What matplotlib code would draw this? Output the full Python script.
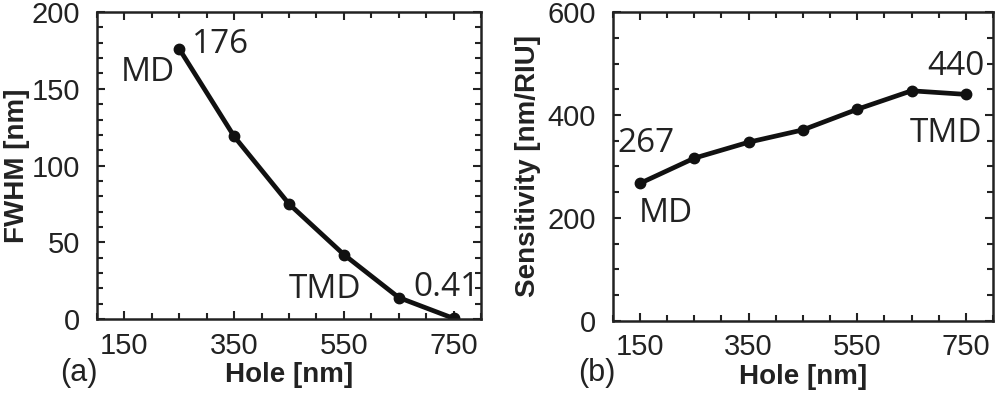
import matplotlib
matplotlib.use('Agg')
from matplotlib import pyplot as plt
from matplotlib.ticker import MultipleLocator

# data
hole_a = [250, 350, 450, 550, 650, 750]
fwhm = [176, 119, 75, 42, 14, 0.41]

hole_b = [150, 250, 350, 450, 550, 650, 750]
sens = [267, 316, 347, 371, 411, 447, 440]

xticks = [150, 350, 550, 750]

tick_font = 'Liberation Sans'
note_font = 'Open Sans'

fig = plt.figure(figsize=(9.99, 3.96), dpi=100)
axa = fig.add_axes([0.0971, 0.1944, 0.3844, 0.775])
axb = fig.add_axes([0.6133, 0.190, 0.3807, 0.7795])


def style(ax, ymax, ymaj, ymin):
    ax.set_xlim(100, 800)
    ax.set_ylim(0, ymax)
    ax.set_xticks(xticks)
    ax.xaxis.set_minor_locator(MultipleLocator(50))
    ax.yaxis.set_major_locator(MultipleLocator(ymaj))
    ax.yaxis.set_minor_locator(MultipleLocator(ymin))
    ax.tick_params(which='both', direction='in', top=True, right=True,
                   width=1.5, labelsize=21, colors='#222222')
    ax.tick_params(which='major', length=6)
    ax.tick_params(which='minor', length=4)
    ax.tick_params(axis='x', pad=9)
    ax.tick_params(axis='y', pad=12)
    for lab in ax.get_xticklabels() + ax.get_yticklabels():
        lab.set_fontfamily(tick_font)
    for s in ax.spines.values():
        s.set_linewidth(1.8)
        s.set_color('#222222')
    ax.set_xlabel('Hole [nm]', fontsize=20, fontweight='bold',
                  family=tick_font, color='#222222')


# (a) FWHM
axa.plot(hole_a, fwhm, '-o', color='#111111', lw=3.4, ms=7.5)
style(axa, 200, 50, 10)
axa.set_ylabel('FWHM [nm]', fontsize=20, fontweight='bold',
               family=tick_font, color='#222222')
axa.yaxis.set_label_coords(-0.175, 0.5)
axa.xaxis.set_label_coords(0.5, -0.14)

kw = dict(textcoords='offset points', fontsize=24, family=note_font,
          color='#222222', va='center')
axa.annotate('176', xy=(hole_a[0], fwhm[0]), xytext=(9, 3), ha='left', **kw)
axa.annotate('MD', xy=(hole_a[0], fwhm[0]), xytext=(-3, -17), ha='right', **kw)
axa.annotate('TMD', xy=(hole_a[4], fwhm[4]), xytext=(-27, 6), ha='right', **kw)
axa.annotate('0.41', xy=(hole_a[5], fwhm[5]), xytext=(19, 22), ha='right', **kw)

# (b) Sensitivity
axb.plot(hole_b, sens, '-o', color='#111111', lw=3.4, ms=7.5)
style(axb, 600, 200, 50)
axb.set_ylabel('Sensitivity [nm/RIU]', fontsize=20, fontweight='bold',
               family=tick_font, color='#222222')
axb.yaxis.set_label_coords(-0.188, 0.5)
axb.xaxis.set_label_coords(0.5, -0.14)

axb.annotate('267', xy=(hole_b[0], sens[0]), xytext=(4.5, 29), ha='center', **kw)
axb.annotate('MD', xy=(hole_b[0], sens[0]), xytext=(19, -22), ha='center', **kw)
axb.annotate('440', xy=(hole_b[-1], sens[-1]), xytext=(-7, 20), ha='center', **kw)
axb.annotate('TMD', xy=(hole_b[-1], sens[-1]), xytext=(-14, -28), ha='center', **kw)

fig.text(0.060, 0.058, '(a)', fontsize=22, family=tick_font, color='#222222', va='center')
fig.text(0.579, 0.058, '(b)', fontsize=22, family=tick_font, color='#222222', va='center')

fig.savefig('out.png', dpi=100)
